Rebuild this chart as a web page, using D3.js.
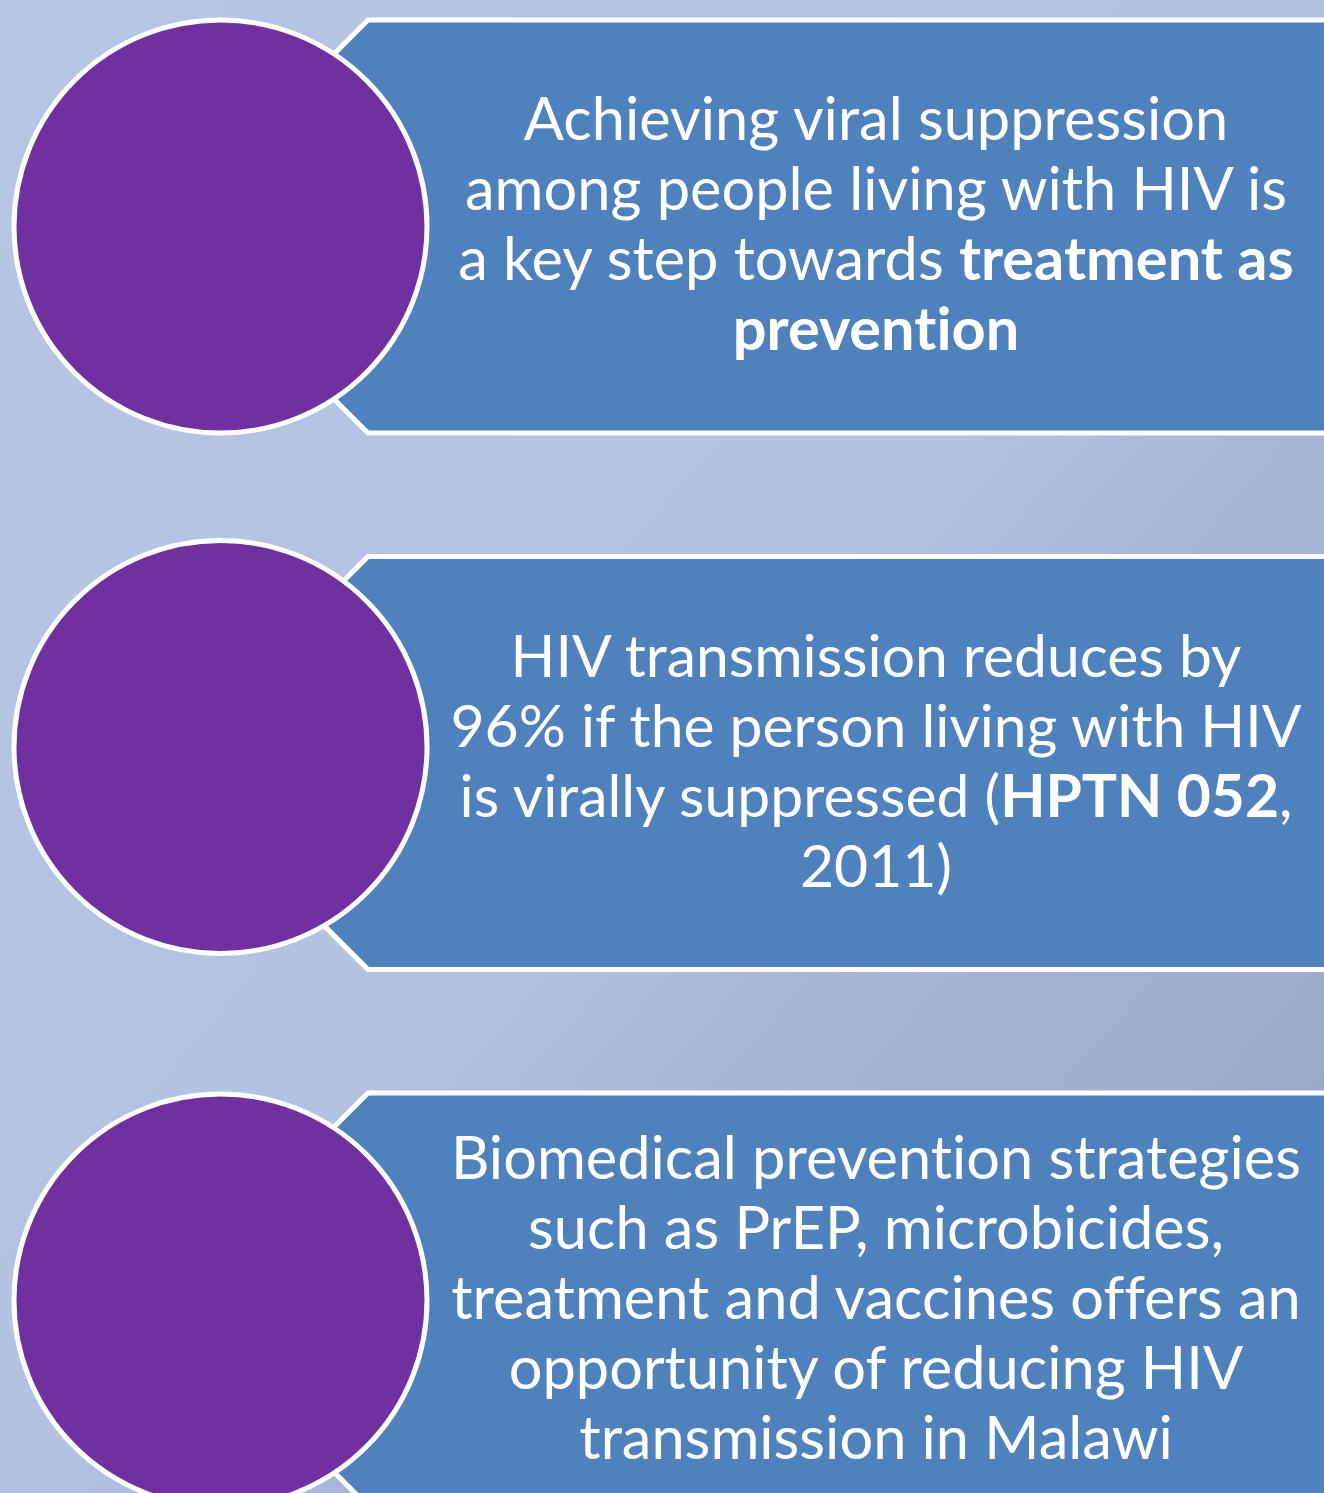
<!DOCTYPE html>
<html>
<head>
<meta charset="utf-8">
<script src="https://cdn.jsdelivr.net/npm/d3@7"></script>
<style>
  html, body { margin: 0; padding: 0; overflow: hidden; }
  svg { display: block; }
  .row-text {
    font-family: Lato, "Open Sans", sans-serif;
    fill: #fff;
    font-variant-ligatures: none;
    font-feature-settings: "liga" 0;
  }
</style>
</head>
<body>
<div id="chart"></div>
<script>
// ── Content ──────────────────────────────────────────────────────────────
// each line is a list of [text, bold] segments
const itemIds = ['suppression', 'hptn', 'biomedical'];

const suppressionLines = [
  [['Achieving viral suppression', false]],
  [['among people living with HIV is', false]],
  [['a key step towards ', false], ['treatment as', true]],
  [['prevention', true]]
];

const hptnLines = [
  [['HIV transmission reduces by', false]],
  [['96% if the person living with HIV', false]],
  [['is virally suppressed (', false], ['HPTN 052', true], [',', false]],
  [['2011)', false]]
];

const biomedicalLines = [
  [['Biomedical prevention strategies', false]],
  [['such as PrEP, microbicides,', false]],
  [['treatment and vaccines offers an', false]],
  [['opportunity of reducing HIV', false]],
  [['transmission in Malawi', false]]
];

const itemLines = [suppressionLines, hptnLines, biomedicalLines];

// ── Layout ───────────────────────────────────────────────────────────────
const W = 1324, H = 1493;
const BLUE = '#4f81bd', PURPLE = '#7030a0';
const LINE_H = 70;
const fontSize = [59.5, 58.8, 59.5];
const circleShift = [0, -16, 1];   // the middle circle sits a bit high in the original

const svg = d3.select('#chart').append('svg')
  .attr('width', W)
  .attr('height', H);

const defs = svg.append('defs');
const grad = defs.append('linearGradient')
  .attr('id', 'bg')
  .attr('gradientUnits', 'userSpaceOnUse')
  .attr('x1', 0).attr('y1', 0).attr('x2', H).attr('y2', W);
[[0, '#b7c5e5'], [0.5, '#b4c2e2'], [0.62, '#aab6d8'], [0.79, '#a0acd0'], [1, '#94a0c6']]
  .forEach(([o, c]) => grad.append('stop').attr('offset', o).attr('stop-color', c));

svg.append('rect').attr('width', W).attr('height', H).attr('fill', 'url(#bg)');

// rows: band of height 413 every 536.5px
const y = d3.scaleBand()
  .domain(itemIds)
  .range([20, 1506])
  .paddingInner(0.2302)
  .paddingOuter(0);

const boxLeft = 368, boxRight = W + 20, textMid = 876;
const circleCx = 220.5, circleR = 206.5;

const rows = svg.selectAll('.row')
  .data(itemIds)
  .enter()
  .append('g')
  .attr('class', 'row');

// blue box with a 45° point on the left, tucked behind the circle
rows.append('path')
  .attr('d', d => {
    const t = y(d), b = t + y.bandwidth(), h = y.bandwidth() / 2;
    return d3.line()([
      [boxLeft, t], [boxRight, t], [boxRight, b], [boxLeft, b], [boxLeft - h, t + h]
    ]) + 'Z';
  })
  .attr('fill', BLUE)
  .attr('stroke', '#fff')
  .attr('stroke-width', 5)
  .attr('stroke-linejoin', 'miter');

rows.append('circle')
  .attr('cx', circleCx)
  .attr('cy', (d, i) => y(d) + y.bandwidth() / 2 + circleShift[i])
  .attr('r', circleR)
  .attr('fill', PURPLE)
  .attr('stroke', '#fff')
  .attr('stroke-width', 5);

// centred text lines
rows.each(function (d, i) {
  const lines = itemLines[i];
  const cy = y(d) + y.bandwidth() / 2;
  const text = d3.select(this).append('text')
    .attr('class', 'row-text')
    .attr('text-anchor', 'middle')
    .style('font-size', fontSize[i] + 'px');

  lines.forEach((segs, li) => {
    const line = text.append('tspan')
      .attr('x', textMid)
      .attr('y', cy + (li - (lines.length - 1) / 2) * LINE_H + 19);
    segs.forEach(([s, bold]) => {
      line.append('tspan').attr('font-weight', bold ? 700 : 400).text(s);
    });
  });
});
</script>
</body>
</html>
